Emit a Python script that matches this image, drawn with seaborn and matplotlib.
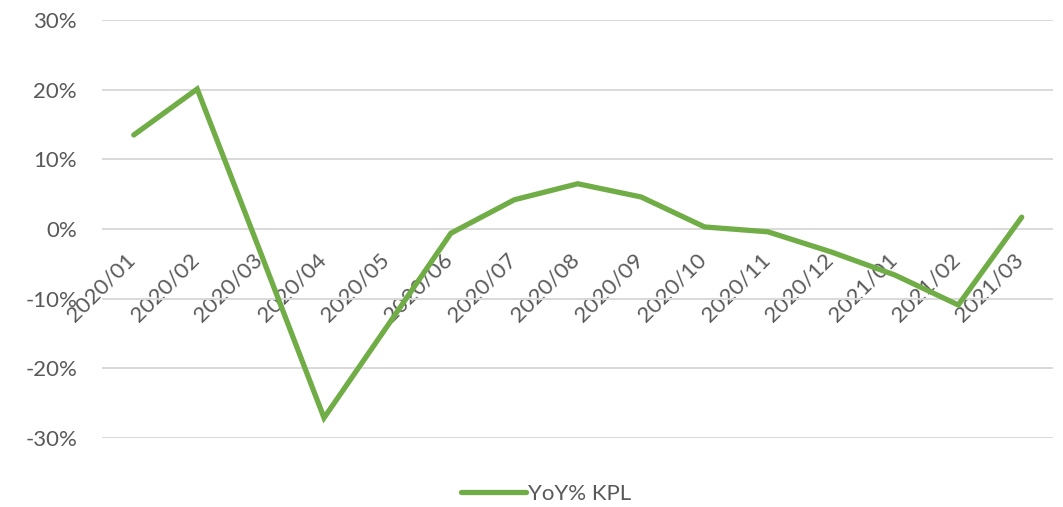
import numpy as np
import pandas as pd
import matplotlib
matplotlib.use("Agg")
import matplotlib.pyplot as plt
import matplotlib.transforms as mtrans
import seaborn as sns
from matplotlib.ticker import FuncFormatter

# monthly yoy values (in %)
MONTHS = ['2020/01', '2020/02', '2020/03', '2020/04', '2020/05', '2020/06', '2020/07',
          '2020/08', '2020/09', '2020/10', '2020/11', '2020/12', '2021/01', '2021/02', '2021/03']
YOY = [13.5, 20.1, -3.4, -27.1, -13.9, -0.6, 4.2, 6.5, 4.6, 0.3, -0.4, -3.3, -6.6, -10.9, 1.7]
SERIES = 'YoY% KPL'

GREEN = '#70AD47'
GREY = '#595959'

df = pd.DataFrame({'month': MONTHS, 'yoy': np.array(YOY) / 100.0})
df['pos'] = np.arange(len(MONTHS))

sns.set_style('white')
plt.rcParams['font.family'] = ['Lato', 'DejaVu Sans']

fig = plt.figure(figsize=(10.63, 5.07), dpi=100)
ax = fig.add_axes([0.096, 0.136, 0.895, 0.8245])

sns.lineplot(data=df, x='pos', y='yoy', color=GREEN, linewidth=3.8, ax=ax,
             label=SERIES, legend=False, sort=False)
ax.lines[0].set_solid_capstyle('round')
ax.lines[0].set_solid_joinstyle('miter')

ax.set_xlim(-0.5, len(MONTHS) - 0.5)
ax.set_ylim(-0.3, 0.3)
ax.set_yticks(np.arange(-0.3, 0.31, 0.1))
ax.yaxis.set_major_formatter(FuncFormatter(lambda v, p: f'{v*100:.0f}%'))
ax.grid(axis='y', color='#D9D9D9', linewidth=1.4)
ax.set_axisbelow(True)

# category axis crosses at zero like excel
for s in ['top', 'right', 'left']:
    ax.spines[s].set_visible(False)
ax.spines['bottom'].set_position(('data', 0))
ax.spines['bottom'].set_visible(False)

ax.set_xticks(df['pos'])
ax.set_xticklabels(MONTHS, rotation=45, ha='right', rotation_mode='anchor')
ax.tick_params(axis='x', length=0, pad=15, labelsize=16, labelcolor=GREY)
ax.tick_params(axis='y', length=0, pad=18, labelsize=16, labelcolor=GREY)
ax.set_xlabel('')
ax.set_ylabel('')

# nudge month labels a bit left
shift = mtrans.ScaledTranslation(-6 / 72, 0, fig.dpi_scale_trans)
for lbl in ax.get_xticklabels():
    lbl.set_transform(lbl.get_transform() + shift)

h, l = ax.get_legend_handles_labels()
leg = fig.legend(h, l, loc='center', bbox_to_anchor=(0.514, 0.026), frameon=False,
                 fontsize=16, handlelength=2.9, handletextpad=0.1)
for t in leg.get_texts():
    t.set_color(GREY)

fig.savefig('out.png', dpi=100)
